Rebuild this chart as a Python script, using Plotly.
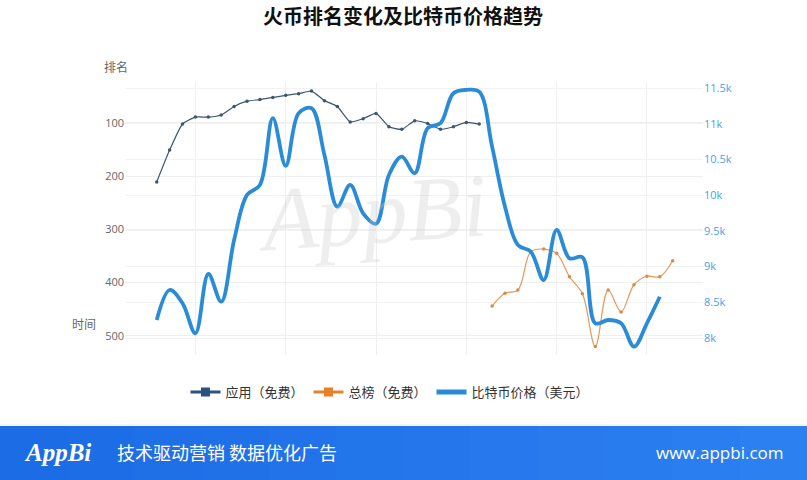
import plotly.graph_objects as go

# ---------------- data ----------------
app_day = list(range(0, 26))
app_rank = [211, 151, 102, 89, 89, 85, 69, 59, 56, 52, 48, 45, 40, 58, 69,
            98, 92, 82, 107, 112, 96, 101, 112, 107, 99, 102]

total_day = list(range(26, 41))
total_rank = [444, 420, 414, 342, 337, 345, 389, 421, 520, 414, 455, 404, 388, 389, 359]

btc_day = list(range(0, 40))
btc_price = [8252, 8672, 8486, 8066, 8896, 8508, 9372, 10003, 10143, 11077,
             10410, 11147, 11217, 10563, 9839, 10143, 9746, 9600, 10283, 10540,
             10307, 10937, 11007, 11427, 11473, 11450, 10679, 9839, 9302, 9209,
             8812, 9513, 9116, 9130, 8206, 8252, 8206, 7878, 8206, 8578]

rank_ticks = [100, 200, 300, 400, 500]

C_APP = "#2c5282"
C_TOT = "#e8822a"
C_BTC = "#2a8cd6"
FONT = "Noto Sans CJK SC"

# pixel helpers (plot area: x 125..703, y 82..355)
def px(x):
    return (x - 125) / 578.0

def py(y):
    return (355 - y) / 273.0

fig = go.Figure()

fig.add_trace(go.Scatter(
    x=app_day, y=app_rank, mode="lines+markers", name="应用（免费）",
    line=dict(color="#3e5670", width=1.2, shape="spline", smoothing=0.5),
    marker=dict(color="#3e5670", size=3.5), showlegend=False, yaxis="y"))

fig.add_trace(go.Scatter(
    x=total_day, y=total_rank, mode="lines+markers", name="总榜（免费）",
    line=dict(color="#e39a5c", width=1.2, shape="spline", smoothing=1.0),
    marker=dict(color="#d98a4a", size=3.5), showlegend=False, yaxis="y"))

fig.add_trace(go.Scatter(
    x=btc_day, y=btc_price, mode="lines", name="比特币价格（美元）",
    line=dict(color=C_BTC, width=3.8, shape="spline", smoothing=1.0),
    showlegend=False, yaxis="y2"))

# legend-only entries
fig.add_trace(go.Scatter(x=[None], y=[None], mode="lines+markers", name="应用（免费）",
                         line=dict(color=C_APP, width=3),
                         marker=dict(symbol="square", size=9, color=C_APP)))
fig.add_trace(go.Scatter(x=[None], y=[None], mode="lines+markers", name="总榜（免费）",
                         line=dict(color=C_TOT, width=3),
                         marker=dict(symbol="square", size=9, color=C_TOT)))
fig.add_trace(go.Scatter(x=[None], y=[None], mode="lines", name="比特币价格（美元）",
                         line=dict(color=C_BTC, width=5)))

shapes = []
# footer band (approximate gradient with strips)
n = 12
x_left, x_right = px(0), px(807)
for i in range(n):
    t = i / (n - 1)
    r = int(28 + (45 - 28) * t)
    g = int(108 + (128 - 108) * t)
    b = int(230 + (240 - 230) * t)
    shapes.append(dict(type="rect", xref="paper", yref="paper",
                       x0=x_left + (x_right - x_left) * i / n,
                       x1=x_left + (x_right - x_left) * (i + 1) / n + 0.002,
                       y0=py(481), y1=py(426), line=dict(width=0),
                       fillcolor=f"rgb({r},{g},{b})", layer="above"))
shapes.append(dict(type="line", xref="paper", yref="paper", x0=x_left, x1=x_right,
                   y0=py(425), y1=py(425), line=dict(color="#e4e8ee", width=1)))

annotations = [
    dict(text="<b>火币排名变化及比特币价格趋势</b>", x=px(403), y=py(16), xref="paper",
         yref="paper", showarrow=False, xanchor="center", yanchor="middle",
         font=dict(size=20, color="#111", family=FONT)),
    dict(text="排名", x=px(116), y=py(66), xref="paper", yref="paper", showarrow=False,
         xanchor="center", yanchor="middle",
         font=dict(size=12, color="#666", family=FONT)),
    dict(text="时间", x=px(84), y=py(323), xref="paper", yref="paper", showarrow=False,
         xanchor="center", yanchor="middle",
         font=dict(size=12, color="#666", family=FONT)),
    dict(text="<i>AppBi</i>", x=px(372), y=py(212), xref="paper", yref="paper",
         xanchor="center", yanchor="middle",
         showarrow=False, font=dict(size=90, color="rgba(200,200,200,0.3)",
                                   family="Liberation Serif"), textangle=-4),
    dict(text="<i><b>AppBi</b></i>", x=px(22), y=py(452), xref="paper", yref="paper",
         xanchor="left", yanchor="middle", showarrow=False,
         font=dict(size=25, color="white", family="Liberation Serif")),
    dict(text="技术驱动营销 数据优化广告", x=px(115), y=py(452), xref="paper", yref="paper",
         xanchor="left", yanchor="middle", showarrow=False,
         font=dict(size=18, color="white", family=FONT)),
    dict(text="www.appbi.com", x=px(786), y=py(452), xref="paper", yref="paper",
         xanchor="right", yanchor="middle", showarrow=False,
         font=dict(size=17, color="white", family="Open Sans")),
]

fig.update_layout(
    width=807, height=480,
    margin=dict(l=125, r=104, t=82, b=125),
    paper_bgcolor="white", plot_bgcolor="white",
    font=dict(family=FONT, color="#333"),
    xaxis=dict(range=[-2.46, 42.35], tick0=3, dtick=7, showticklabels=False,
               showgrid=True, gridcolor="#efefef", zeroline=False, showline=False, ticks=""),
    yaxis=dict(range=[536, 23], tickvals=rank_ticks, showgrid=True, gridcolor="#efefef",
               zeroline=False, showline=False, ticks="",
               tickfont=dict(size=11, color="#666", family="Open Sans")),
    yaxis2=dict(range=[7762, 11584], overlaying="y", side="right", tick0=8000, dtick=500,
                tickformat="~s", showgrid=True, gridcolor="#f2f2f2", zeroline=False,
                showline=False, ticks="",
                tickfont=dict(size=11, color="#4aa3df", family="Open Sans")),
    legend=dict(orientation="h", x=px(390), xanchor="center", y=py(392), yanchor="middle",
                font=dict(size=13, color="#333", family=FONT), itemwidth=30,
                bgcolor="rgba(0,0,0,0)"),
    shapes=shapes,
    annotations=annotations,
)

fig.write_html("out.html", config={"displayModeBar": False},
               post_script="document.body.style.margin='0';document.body.style.overflow='hidden';")
